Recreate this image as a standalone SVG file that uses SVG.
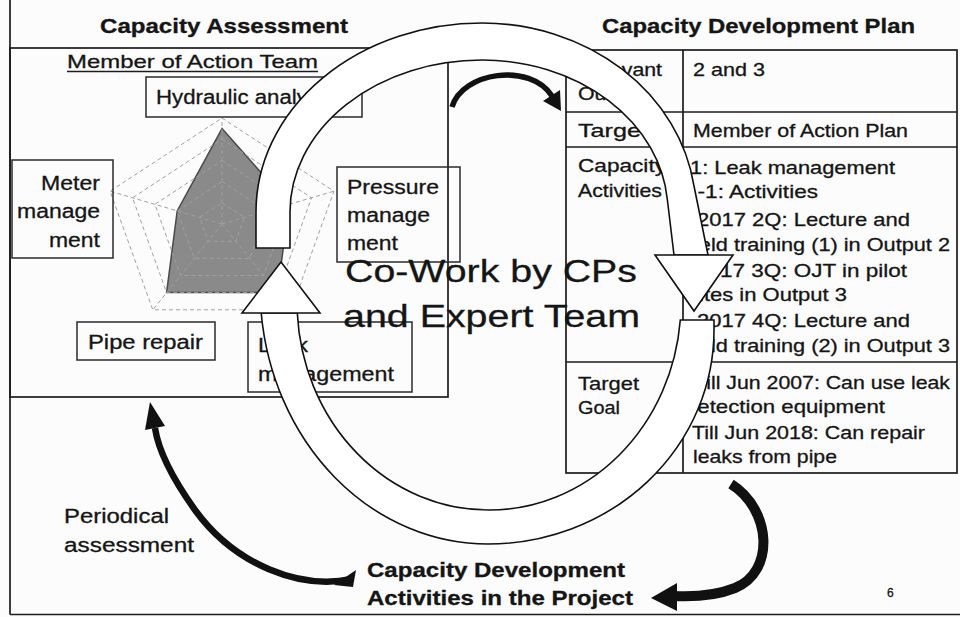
<svg xmlns="http://www.w3.org/2000/svg" width="960" height="617" viewBox="0 0 960 617">
  <defs>
    <style>
      .bg{fill:#fcfcfc}
      .ln{fill:none;stroke:#1c1c1c;stroke-width:1.7}
      .bx{fill:none;stroke:#2a2a2a;stroke-width:1.5}
      .t{font-family:"Liberation Sans",Arial,Helvetica,sans-serif;fill:#151515;stroke:#151515;stroke-width:0.3}
      .h{font-size:21px;font-weight:bold}
      .hb{font-size:20px;font-weight:bold}
      .lb{font-size:20px}
      .tb{font-size:18.5px}
      .big{font-size:32px}
      .grid{fill:none;stroke:#a0a0a0;stroke-width:1;stroke-dasharray:4 3}
      .data{fill:#8a8a8a;stroke:#4a4a4a;stroke-width:1.5}
      .band{fill:#ffffff;stroke:#111;stroke-width:1.6}
      .shaft{fill:none;stroke:#111;stroke-linecap:butt}
      .head{fill:#111}
    </style>
  </defs>

  <rect class="bg" x="0" y="0" width="960" height="617"/>

  <!-- outer frame -->
  <g id="frame">
    <line class="ln" x1="10" y1="0" x2="10" y2="614.5"/>
    <line class="ln" x1="10" y1="614.5" x2="960" y2="614.5"/>
  </g>

  <!-- capacity assessment panel -->
  <g id="assessment">
    <text class="t h" x="100" y="33" textLength="248" lengthAdjust="spacingAndGlyphs">Capacity Assessment</text>
    <rect class="ln" x="10" y="48" width="438" height="349"/>
    <text class="t" x="67" y="68" font-size="19" textLength="251" lengthAdjust="spacingAndGlyphs">Member of Action Team</text>
    <line class="ln" x1="67" y1="71.5" x2="318" y2="71.5" stroke-width="1.3"/>
  </g>

  <!-- radar chart -->
  <g id="radar" transform="translate(222 224)">
    <polygon class="data" points="0,-95.4 67.1,-19.7 55.4,68.6 -55.4,68.6 -44.8,-13.1"/>
    <polygon class="grid" points="0,-106 111.9,-32.8 69.2,85.8 -69.2,85.8 -111.9,-32.8"/>
    <polygon class="grid" points="0,-84.8 89.5,-26.2 55.4,68.6 -55.4,68.6 -89.5,-26.2"/>
    <polygon class="grid" points="0,-63.6 67.1,-19.7 41.5,51.5 -41.5,51.5 -67.1,-19.7"/>
    <polygon class="grid" points="0,-42.4 44.8,-13.1 27.7,34.3 -27.7,34.3 -44.8,-13.1"/>
    <polygon class="grid" points="0,-21.2 22.4,-6.6 13.8,17.2 -13.8,17.2 -22.4,-6.6"/>
    <path class="grid" d="M0,0 L0,-106 M0,0 L111.9,-32.8 M0,0 L69.2,85.8 M0,0 L-69.2,85.8 M0,0 L-111.9,-32.8"/>
  </g>

  <g id="hydraulic">
    <rect class="bx" x="146" y="77" width="216" height="40"/>
    <text class="t lb" x="156" y="104" textLength="179" lengthAdjust="spacingAndGlyphs">Hydraulic analysis</text>
  </g>
  <g id="meter">
    <rect class="bx" x="12" y="160" width="101" height="98"/>
    <text class="t lb" x="41" y="190" textLength="59" lengthAdjust="spacingAndGlyphs">Meter</text>
    <text class="t lb" x="17" y="218" textLength="83" lengthAdjust="spacingAndGlyphs">manage</text>
    <text class="t lb" x="49" y="247" textLength="51" lengthAdjust="spacingAndGlyphs">ment</text>
  </g>
  <g id="pressure">
    <rect class="bx" x="337" y="167" width="123" height="95"/>
    <text class="t lb" x="347" y="194" textLength="92" lengthAdjust="spacingAndGlyphs">Pressure</text>
    <text class="t lb" x="347" y="222" textLength="83" lengthAdjust="spacingAndGlyphs">manage</text>
    <text class="t lb" x="347" y="250" textLength="51" lengthAdjust="spacingAndGlyphs">ment</text>
  </g>
  <g id="pipe">
    <rect class="bx" x="77" y="322" width="138" height="38"/>
    <text class="t lb" x="88" y="349" textLength="115" lengthAdjust="spacingAndGlyphs">Pipe repair</text>
  </g>
  <g id="leak">
    <rect class="bx" x="248" y="322" width="164" height="70"/>
    <text class="t lb" x="258" y="352" textLength="50" lengthAdjust="spacingAndGlyphs">Leak</text>
    <text class="t lb" x="258" y="381" textLength="136" lengthAdjust="spacingAndGlyphs">management</text>
  </g>

  <!-- capacity development plan table -->
  <g id="plan">
    <text class="t h" x="602" y="33" textLength="313" lengthAdjust="spacingAndGlyphs">Capacity Development Plan</text>
    <rect class="ln" x="566" y="50" width="391" height="423"/>
    <line class="ln" x1="683" y1="50" x2="683" y2="473"/>
    <line class="ln" x1="566" y1="112" x2="957" y2="112"/>
    <line class="ln" x1="566" y1="147" x2="957" y2="147"/>
    <line class="ln" x1="566" y1="362" x2="957" y2="362"/>

    <text class="t tb" x="578" y="76" textLength="84" lengthAdjust="spacingAndGlyphs">Relevant</text>
    <text class="t tb" x="578" y="100" textLength="64" lengthAdjust="spacingAndGlyphs">Output</text>
    <text class="t tb" x="578" y="137" textLength="70" lengthAdjust="spacingAndGlyphs">Target</text>
    <text class="t tb" x="578" y="172" textLength="88" lengthAdjust="spacingAndGlyphs">Capacity</text>
    <text class="t tb" x="578" y="197" textLength="84" lengthAdjust="spacingAndGlyphs">Activities</text>
    <text class="t tb" x="578" y="390" textLength="61" lengthAdjust="spacingAndGlyphs">Target</text>
    <text class="t tb" x="578" y="414" textLength="42" lengthAdjust="spacingAndGlyphs">Goal</text>

    <text class="t tb" x="693" y="76" textLength="72" lengthAdjust="spacingAndGlyphs">2 and 3</text>
    <text class="t tb" x="693" y="137" textLength="215" lengthAdjust="spacingAndGlyphs">Member of Action Plan</text>
    <text class="t tb" x="690" y="174" textLength="205" lengthAdjust="spacingAndGlyphs">1: Leak management</text>
    <text class="t tb" x="685" y="198" textLength="133" lengthAdjust="spacingAndGlyphs">1-1: Activities</text>
    <text class="t tb" x="697" y="226" textLength="213" lengthAdjust="spacingAndGlyphs">2017 2Q: Lecture and</text>
    <text class="t tb" x="688" y="251" textLength="262" lengthAdjust="spacingAndGlyphs">field training (1) in Output 2</text>
    <text class="t tb" x="695" y="277" textLength="212" lengthAdjust="spacingAndGlyphs">2017 3Q: OJT in pilot</text>
    <text class="t tb" x="688" y="301" textLength="159" lengthAdjust="spacingAndGlyphs">sites in Output 3</text>
    <text class="t tb" x="697" y="327" textLength="213" lengthAdjust="spacingAndGlyphs">2017 4Q: Lecture and</text>
    <text class="t tb" x="688" y="352" textLength="262" lengthAdjust="spacingAndGlyphs">field training (2) in Output 3</text>
    <text class="t tb" x="694" y="389" textLength="256" lengthAdjust="spacingAndGlyphs">Till Jun 2007: Can use leak</text>
    <text class="t tb" x="685" y="413" textLength="200" lengthAdjust="spacingAndGlyphs">detection equipment</text>
    <text class="t tb" x="692" y="439" textLength="233" lengthAdjust="spacingAndGlyphs">Till Jun 2018: Can repair</text>
    <text class="t tb" x="693" y="463" textLength="144" lengthAdjust="spacingAndGlyphs">leaks from pipe</text>
  </g>

  <!-- bottom labels -->
  <g id="periodical">
    <text class="t lb" x="64" y="523" textLength="105" lengthAdjust="spacingAndGlyphs">Periodical</text>
    <text class="t lb" x="64" y="552" textLength="130" lengthAdjust="spacingAndGlyphs">assessment</text>
  </g>
  <g id="activities">
    <text class="t hb" x="367" y="577" textLength="258" lengthAdjust="spacingAndGlyphs">Capacity Development</text>
    <text class="t hb" x="367" y="605" textLength="266" lengthAdjust="spacingAndGlyphs">Activities in the Project</text>
  </g>
  <text class="t" x="887" y="597" font-size="12">6</text>

  <!-- connectors -->
  <g id="connectors">
    <!-- small curved arrow inside the cycle -->
    <path class="shaft" stroke-width="5.5" d="M452,107 C462,72 530,62 552,96"/>
    <polygon class="head" points="543,101 560,90 561,111"/>
    <!-- periodical assessment arrow -->
    <path class="shaft" stroke-width="6.5" d="M352,579 C300,590 235,565 195,510 C170,475 158,448 155,428"/>
    <polygon class="head" points="145,430 165,426 150,402"/>
    <polygon class="head" points="334,585 356,570 353,587"/>
    <!-- plan to activities arrow -->
    <path class="shaft" stroke-width="10" d="M731,484 C772,510 775,572 735,588 C715,596 695,597 674,596"/>
    <polygon class="head" points="677,583 677,611 651,598"/>

    <!-- co-work cycle: upper half -->
    <path class="band" d="M256,248 L256,212 A226,189 0 0 1 482,23 A214,189 0 0 1 693.8,185 L708,255 L674,255 L667.4,200 A186,152 0 0 0 482,60 A192,152 0 0 0 290,212 L290,248 Z"/>
    <polygon class="band" points="655,255 733,255 694,311"/>
    <!-- co-work cycle: lower half -->
    <path class="band" d="M680.3,320 L714,320 L714,330 A226,214 0 0 1 488,544 A228,257 0 0 1 261.2,313 L297.3,313 A191.5,208 0 0 0 489,510 A191.5,208 0 0 0 680.3,320 Z"/>
    <polygon class="band" points="242,313 320,313 281,262"/>
  </g>

  <g id="cowork">
    <text class="t big" x="345" y="282" textLength="292" lengthAdjust="spacingAndGlyphs">Co-Work by CPs</text>
    <text class="t big" x="343" y="327" textLength="297" lengthAdjust="spacingAndGlyphs">and Expert Team</text>
  </g>
</svg>
